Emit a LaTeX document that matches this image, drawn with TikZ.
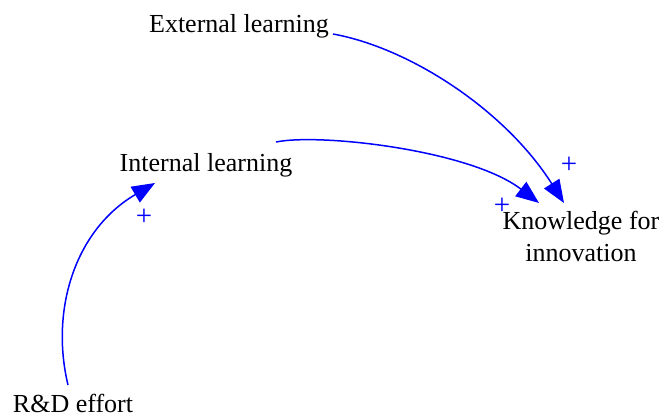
\documentclass[tikz,border=0pt]{standalone}
\usepackage{fontspec}
\setmainfont{Liberation Serif}
\newfontfamily\varfont{Liberation Serif}
\usetikzlibrary{arrows.meta,calc}
\definecolor{linkblue}{RGB}{0,0,255}
\tikzset{
  var/.style={inner sep=0pt, align=center, font=\varfont\fontsize{26}{32}\selectfont},
  link/.style={draw=linkblue, line width=1.5pt, -{Triangle[length=23pt,width=18pt]}},
  pol/.style={text=linkblue, inner sep=0pt, font=\varfont\fontsize{29}{30}\selectfont}
}
\begin{document}
\begin{tikzpicture}[x=1pt,y=-1pt]
\useasboundingbox (0,0) rectangle (666,417);
\node[var] (ext) at (239,26) {External learning};
\node[var] (int) at (206,165) {Internal learning};
\node[var] (kfi) at (581,236) {Knowledge for\\innovation};
\node[var] (rd) at (73,403) {R\&D effort};
\draw[link] ($(ext)+(94,8)$) .. controls (410,48) and (505,110) .. ($(kfi)+(-17,-33)$);
\draw[link] ($(int)+(70,-23)$) .. controls (320,133) and (470,150) .. ($(kfi)+(-42,-33)$);
\draw[link] ($(rd)+(-5,-18)$) .. controls (50,310) and (75,230) .. ($(int)+(-51,18)$);
\node[pol] (p1) at (569,165) {+};
\node[pol] (p2) at (502,206) {+};
\node[pol] (p3) at (144,217) {+};
\end{tikzpicture}
\end{document}
